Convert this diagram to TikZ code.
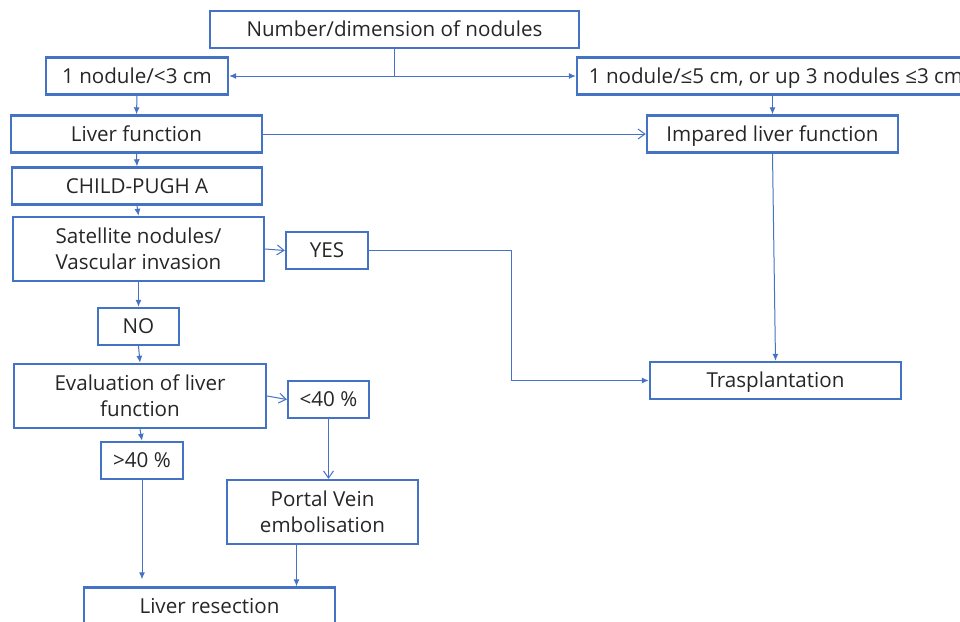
\documentclass[tikz,border=0pt]{standalone}
\usepackage{fontspec}
\setmainfont{Open Sans}
\usepackage{tikz}
\usetikzlibrary{arrows.meta}
\definecolor{boxblue}{HTML}{4472C4}
\definecolor{txtgray}{HTML}{262626}

\begin{document}
\begin{tikzpicture}[x=0.5pt, y=-0.5pt, thick,
  main/.style = {draw=boxblue, line width=1.2pt, rectangle, text=txtgray, font=\fontsize{10.3}{12.8}\selectfont, align=center, inner sep=0pt},
  sgl/.style = {main, minimum height=18.5pt, text height=9.3pt, text depth=2pt},
  dbl/.style = {main, minimum height=32pt},
  fill/.style = {draw=boxblue, line width=0.5pt, -{Latex[length=3.5pt,width=3pt]}},
  open/.style = {draw=boxblue, line width=0.5pt, -{Straight Barb[length=3.5pt,width=5pt]}}]
\clip (0,0) rectangle (960,622);
\node[sgl,minimum width=184.5pt] (1) at (394.5,29.5) {Number/dimension of nodules};
\node[sgl,minimum width=91pt] (2) at (137,76) {1 nodule/<3 cm};
\node[sgl,minimum width=199pt] (3) at (776,76) {1 nodule/≤5 cm, or up 3 nodules ≤3 cm};
\node[sgl,minimum width=125.5pt] (4) at (136.5,134) {Liver function};
\node[sgl,minimum width=125.5pt] (5) at (772.5,134) {Impared liver function};
\node[sgl,minimum width=125pt] (6) at (137,186) {CHILD-PUGH A};
\node[dbl,minimum width=125.5pt] (7) at (138.5,249) {Satellite nodules/\\Vascular invasion};
\node[sgl,minimum width=41pt] (8) at (327,250.5) {YES};
\node[sgl,minimum width=40.5pt] (9) at (138.5,326.5) {NO};
\node[dbl,minimum width=126pt] (10) at (140,396) {Evaluation of liver\\function};
\node[sgl,minimum width=40.5pt] (11) at (328.5,399.5) {<40 \%};
\node[sgl,minimum width=41pt] (12) at (142,460.5) {>40 \%};
\node[dbl,minimum width=95.5pt] (13) at (322.5,512) {Portal Vein\\embolisation};
\node[sgl,minimum width=125.5pt] (14) at (209.5,606) {Liver resection};
\node[sgl,minimum width=125.5pt] (15) at (775.5,380.5) {Trasplantation};

\draw[fill] (1.south) |- (2.east);
\draw[fill] (1.south) |- (3.west);
\draw[fill] (2.south) -- (4.north);
\draw[open] (4.east) -- (5.west);
\draw[fill] (3.south -| 5.north) -- (5.north);
\draw[fill] (4.south) -- (6.north);
\draw[fill] (6.south) -- (7.north);
\draw[open] (7.east) -- (8.west);
\draw[fill] (8.east) -- ++(142,0) |- (15.west);
\draw[fill] (5.south) -- (15.north);
\draw[fill] (7.south) -- (9.north);
\draw[fill] (9.south) -- (10.north);
\draw[open] (10.east) -- (11.west);
\draw[fill] (10.south) -- (12.north);
\draw[open] (11.south) -- (11.south |- 13.north);
\draw[fill, shorten >=3.5pt] (12.south) -- (12.south |- 14.north);
\draw[fill] ([xshift=-13pt]13.south) -- ([xshift=-13pt]13.south |- 14.north);
\end{tikzpicture}
\end{document}
